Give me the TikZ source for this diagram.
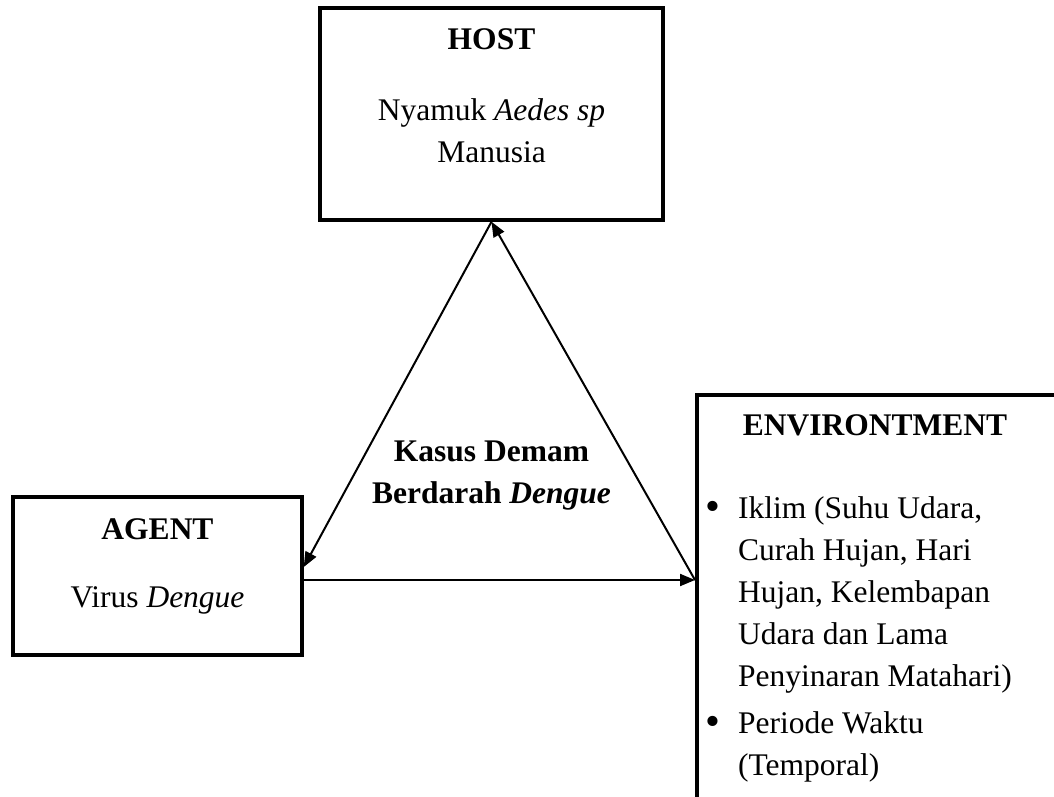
\documentclass[tikz,border=0pt]{standalone}
\usepackage{fontspec}
\setmainfont{Liberation Serif}
\usetikzlibrary{arrows.meta}

\begin{document}
\begin{tikzpicture}[x=1pt,y=-1pt,
    box/.style={draw,line width=3.5pt,inner sep=0pt},
    txt/.style={font=\fontsize{31.5}{42}\selectfont,inner sep=0pt,align=center},
    link/.style={line width=2pt,-{Triangle[length=15pt,width=12pt]}}]
  \useasboundingbox (0,0) rectangle (1054,797);
  \clip (0,0) rectangle (1054,797);

  % boxes
  \node[box,minimum width=343pt,minimum height=212pt] (host) at (491.5,114) {};
  \node[box,minimum width=289pt,minimum height=158pt] (agent) at (157.5,576) {};
  \node[box,minimum width=440pt,minimum height=460pt,anchor=north west] (env) at (695,393) {};

  % texts
  \node[txt,anchor=base] (hosttitle) at (491.5,50) {\bfseries HOST};
  \node[txt,anchor=base] (hostbody) at (491.5,162) {Nyamuk \textit{Aedes sp}\\Manusia};
  \node[txt,anchor=base] (agenttitle) at (157.5,539) {\bfseries AGENT};
  \node[txt,anchor=base] (agentbody) at (157.5,607) {Virus \textit{Dengue}};
  \node[txt,anchor=base] (kasus) at (491.5,503) {\bfseries Kasus Demam\\\bfseries Berdarah \textit{Dengue}};
  \node[txt,anchor=base] (envtitle) at (875,435) {\bfseries ENVIRONTMENT};
  \node[txt,anchor=base west] (envlist) at (705,518) {%
    \begin{tabular}[t]{@{}l@{\hspace{18pt}}l@{}}
      \raisebox{-2pt}{\scalebox{1.35}{\textbullet}} & Iklim (Suhu Udara,\\
                  & Curah Hujan, Hari\\
                  & Hujan, Kelembapan\\
                  & Udara dan Lama\\
                  & Penyinaran Matahari)\\[5pt]
      \raisebox{-2pt}{\scalebox{1.35}{\textbullet}} & Periode Waktu\\
                  & (Temporal)
    \end{tabular}};

  % arrows
  \coordinate (envin) at ([yshift=-187pt]env.north west);
  \coordinate (agentout) at ([yshift=-4pt]agent.east);
  \draw[link] (host.south) -- ([yshift=9pt]agent.east);
  \draw[link] (agentout) -- (envin);
  \draw[link] (envin) -- (host.south);
\end{tikzpicture}
\end{document}
